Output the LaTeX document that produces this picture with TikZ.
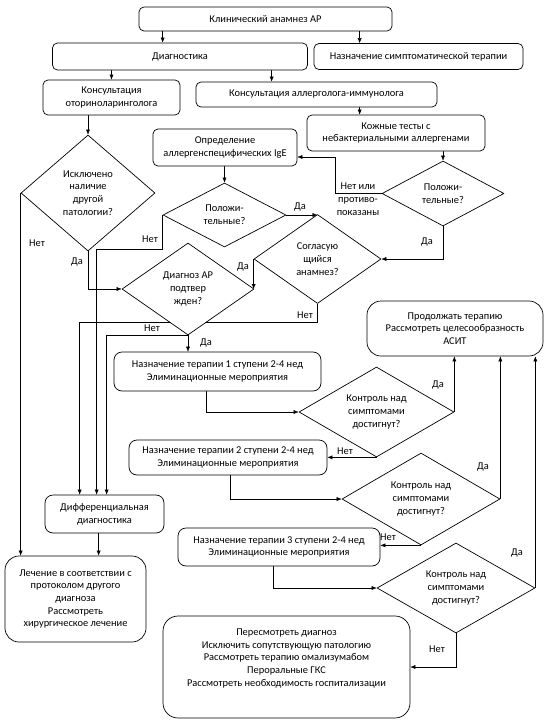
\documentclass[tikz,border=0pt]{standalone}
\usepackage{fontspec}
\setmainfont{Carlito}
\usetikzlibrary{shapes.geometric,arrows.meta,backgrounds}

\begin{document}
\begin{tikzpicture}[x=1pt,y=-1pt,line join=round,line width=0.7pt,>={Latex[length=5pt,width=4pt]},
	font=\fontsize{10.4pt}{12.7pt}\selectfont]
	\tikzset{box/.style={draw,rounded corners=5pt,align=center,inner sep=0pt,fill=white},
		bigbox/.style={box,rounded corners=14pt},
		ask/.style={draw,diamond,align=center,inner sep=0pt,fill=white},
		lbl/.style={inner sep=0pt,align=center}}
	\useasboundingbox (0,0) rectangle (549,725);
	% boxes
	\node[box,minimum width=253pt,minimum height=24pt] (clin) at (265.5,19) {Клинический анамнез АР};
	\node[box,minimum width=255pt,minimum height=27pt] (diag) at (180,56.5) {Диагностика};
	\node[box,minimum width=209pt,minimum height=26pt] (simpt) at (418.5,56.5) {Назначение симптоматической терапии};
	\node[box,minimum width=137pt,minimum height=35pt] (ent) at (111.5,97.5) {Консультация\\оториноларинголога};
	\node[box,minimum width=241pt,minimum height=25pt] (allerg) at (316.5,94.5) {Консультация аллерголога-иммунолога};
	\node[box,minimum width=178pt,minimum height=36pt] (skin) at (396,133) {Кожные тесты с\\небактериальными аллергенами};
	\node[box,minimum width=144pt,minimum height=37pt] (ige) at (225,147.5) {Определение\\аллергенспецифических IgE};
	\node[bigbox,minimum width=176pt,minimum height=55pt] (cont) at (455,328.5) {Продолжать терапию\\Рассмотреть целесообразность\\АСИТ};
	\node[box,rounded corners=8pt,minimum width=207pt,minimum height=39pt] (th1) at (217.5,371.5) {Назначение терапии 1 ступени 2-4 нед\\Элиминационные мероприятия};
	\node[box,rounded corners=8pt,minimum width=198pt,minimum height=35pt] (th2) at (228,457.5) {Назначение терапии 2 ступени 2-4 нед\\Элиминационные мероприятия};
	\node[box,rounded corners=8pt,minimum width=202pt,minimum height=38pt] (th3) at (279,547) {Назначение терапии 3 ступени 2-4 нед\\Элиминационные мероприятия};
	\node[box,rounded corners=8pt,minimum width=119pt,minimum height=38pt] (diff) at (104.5,514) {Дифференциальная\\диагностика};
	\node[bigbox,minimum width=141pt,minimum height=86pt] (treat) at (75.5,599) {Лечение в соответствии с\\протоколом другого\\диагноза\\Рассмотреть\\хирургическое лечение};
	\node[bigbox,rounded corners=15pt,minimum width=247pt,minimum height=102pt] (rev) at (286.5,667) {};
	\node[lbl] (revtext) at (286.5,658.5) {Пересмотреть диагноз\\Исключить сопутствующую патологию\\Рассмотреть терапию омализумабом\\Пероральные ГКС\\Рассмотреть необходимость госпитализации};
	% decisions
	\node[ask,minimum width=134pt,minimum height=116pt,aspect=1.16] (qent) at (88,193) {Исключено\\наличие\\другой\\патологии?};
	\node[ask,minimum width=122pt,minimum height=65pt,aspect=1.88] (qskin) at (443,193.5) {Положи-\\тельные?};
	\node[ask,minimum width=123pt,minimum height=64pt,aspect=1.9] (qige) at (224.5,215) {Положи-\\тельные?};
	\node[ask,minimum width=127pt,minimum height=89pt,aspect=1.43] (qhist) at (317.5,259) {Согласую\\щийся\\анамнез?};
	\node[ask,minimum width=132pt,minimum height=92pt,aspect=1.43] (qar) at (188,289) {Диагноз АР\\подтвер\\жден?};
	\node[ask,minimum width=155pt,minimum height=90pt,aspect=1.72] (qc1) at (376.5,412) {Контроль над\\симптомами\\достигнут?};
	\node[ask,minimum width=158pt,minimum height=92pt,aspect=1.72] (qc2) at (421,499) {Контроль над\\симптомами\\достигнут?};
	\node[ask,minimum width=158pt,minimum height=90pt,aspect=1.75] (qc3) at (456,588) {Контроль над\\симптомами\\достигнут?};
	% labels
	\node[lbl] (lno1) at (37,243) {Нет};
	\node[lbl] (lyes1) at (77,262) {Да};
	\node[lbl] (lno2) at (358,199) {Нет или\\противо-\\показаны};
	\node[lbl] (lyes2) at (427,242) {Да};
	\node[lbl] (lyes3) at (300,207) {Да};
	\node[lbl] (lno3) at (150,239) {Нет};
	\node[lbl] (lyes4) at (243,267) {Да};
	\node[lbl] (lno4) at (305,315) {Нет};
	\node[lbl] (lno5) at (152,328) {Нет};
	\node[lbl] (lyes5) at (206,343) {Да};
	\node[lbl] (lyes6) at (438,385) {Да};
	\node[lbl] (lno6) at (345,451) {Нет};
	\node[lbl] (lyes7) at (483,467) {Да};
	\node[lbl] (lno7) at (388,537) {Нет};
	\node[lbl] (lyes8) at (517,553) {Да};
	\node[lbl] (lno8) at (437,649) {Нет};
	% connectors
	\begin{pgfonlayer}{background}
		\draw[->] ([xshift=24pt]clin.south west) -- ([xshift=24pt]clin.south west |- diag.north);
		\draw[->] ([xshift=221pt]clin.south west) -- ([xshift=221pt]clin.south west |- simpt.north);
		\draw[->] (ent.north |- diag.south) -- (ent.north);
		\draw[->] ([xshift=76pt]allerg.north west |- diag.south) -- ([xshift=76pt]allerg.north west);
		\draw[->] ([xshift=164pt]allerg.south west) -- ([xshift=164pt]allerg.south west |- skin.north);
		\draw[->] (qent.north |- ent.south) -- (qent.north);
		\draw[->] (qskin.north |- skin.south) -- (qskin.north);
		\draw[->] (qskin.west) -- ++(-46,0) |- ([yshift=-9.5pt]ige.east);
		\draw[->] (qskin.south) |- (qhist.east);
		\draw[->] (qige.north |- ige.south) -- (qige.north);
		\draw[->] (qige.east) -- (qige.east -| qhist.north);
		\draw[->] (qige.west) -- ++(0,34) -| ([xshift=52pt]diff.north west);
		\draw[->] (qhist.west) -- (qhist.west |- qar.east);
		\draw[->] (qhist.south) -- ++(0,18) -| ([xshift=35pt]diff.north west);
		\draw[->] (qar.south) -- (qar.south |- th1.north);
		\draw[->] (qar.south) -| ([xshift=62pt]diff.north west);
		\draw[->] (qent.south) |- (qar.west);
		\draw[->] (qent.west) -- (qent.west |- treat.north);
		\draw[->] ([xshift=54pt]diff.south west) -- ([xshift=54pt]diff.south west |- treat.north);
		\draw[->] ([xshift=93pt]th1.south west) |- (qc1.west);
		\draw[->] (qc1.east) -- (qc1.east |- cont.south);
		\draw[->] (qc1.south) -- (qc1.south -| th2.east);
		\draw[->] ([xshift=102pt]th2.south west) |- (qc2.west);
		\draw[->] (qc2.east) -- (qc2.east |- cont.south);
		\draw[->] (qc2.south) -- (qc2.south -| th3.east);
		\draw[->] ([xshift=96pt]th3.south west) |- (qc3.west);
		\draw[->] (qc3.east) -- (qc3.east |- cont.south);
		\draw[->] (qc3.south) |- (rev.east);
	\end{pgfonlayer}
\end{tikzpicture}
\end{document}
